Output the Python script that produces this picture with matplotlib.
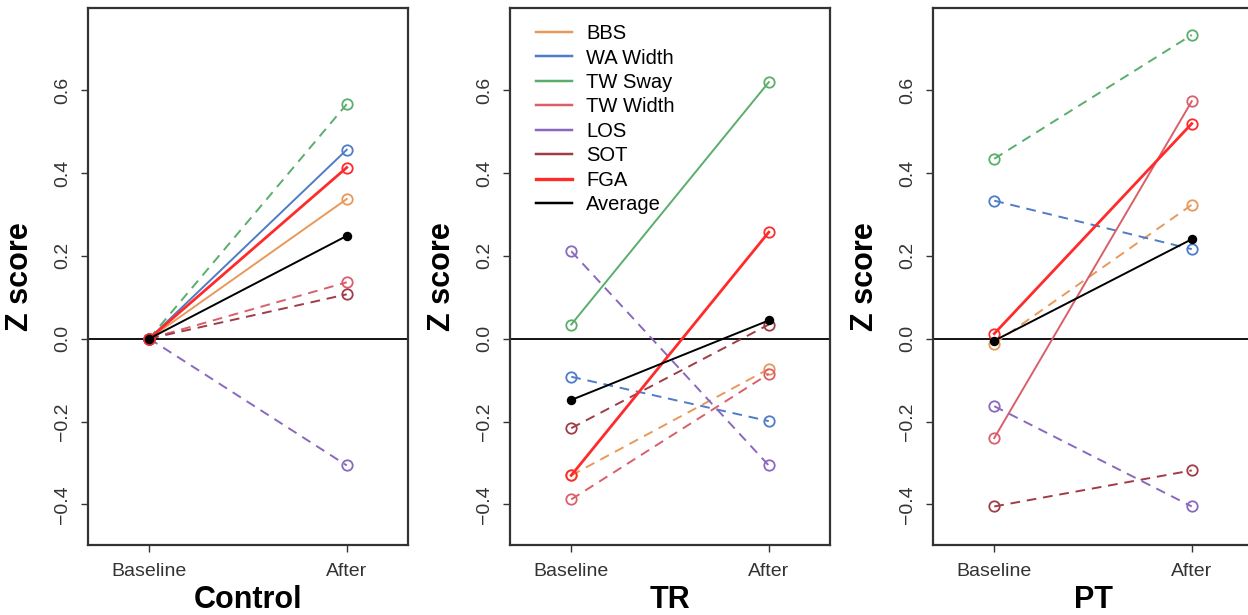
"""Z score change from baseline to after, per group (Control, TR, PT)."""

import matplotlib

matplotlib.use("Agg")
import matplotlib.pyplot as plt
from matplotlib.lines import Line2D

plt.rcParams["font.family"] = ["Liberation Sans", "DejaVu Sans"]

# ── Data ─────────────────────────────────────────────────────────────────────

TIMEPOINTS = ["Baseline", "After"]
MEASURES = ["BBS", "WA Width", "TW Sway", "TW Width", "LOS", "SOT", "FGA", "Average"]
GROUPS = ["Control", "TR", "PT"]

CONTROL_BASELINE = [0.0, 0.0, 0.0, 0.0, 0.0, 0.0, 0.0, 0.0]
CONTROL_AFTER = [0.337, 0.456, 0.566, 0.136, -0.306, 0.107, 0.413, 0.248]

TR_BASELINE = [-0.33, -0.092, 0.034, -0.388, 0.211, -0.216, -0.33, -0.148]
TR_AFTER = [-0.073, -0.199, 0.619, -0.085, -0.306, 0.034, 0.257, 0.044]

PT_BASELINE = [-0.012, 0.333, 0.434, -0.24, -0.163, -0.405, 0.012, -0.005]
PT_AFTER = [0.323, 0.216, 0.733, 0.573, -0.405, -0.318, 0.519, 0.24]

# ── Styles ───────────────────────────────────────────────────────────────────

COLORS = {
    "BBS": "#E8995A",
    "WA Width": "#4F7CC6",
    "TW Sway": "#5AAE6C",
    "TW Width": "#D95F6A",
    "LOS": "#8A68C0",
    "SOT": "#A03C46",
    "FGA": "#FF2B2B",
    "Average": "#000000",
}
WIDTHS = {"FGA": 2.0}
DASHED = {
    "Control": {"TW Sway", "TW Width", "LOS", "SOT"},
    "TR": {"BBS", "WA Width", "TW Width", "LOS", "SOT"},
    "PT": {"BBS", "WA Width", "TW Sway", "LOS", "SOT"},
}

W, H = 1248, 615
AX_LEFT = [88, 510, 933]
AX_W, AX_TOP, AX_BOT = 320, 8, 545

fig = plt.figure(figsize=(W / 100, H / 100), dpi=100)

panels = [
    (CONTROL_BASELINE, CONTROL_AFTER),
    (TR_BASELINE, TR_AFTER),
    (PT_BASELINE, PT_AFTER),
]

for gi, (group, (base, after)) in enumerate(zip(GROUPS, panels)):
    ax = fig.add_axes(
        [AX_LEFT[gi] / W, (H - AX_BOT) / H, AX_W / W, (AX_BOT - AX_TOP) / H]
    )
    ax.axhline(0, color="black", lw=1.3, zorder=1)
    for mi, m in enumerate(MEASURES):
        dashed = m in DASHED[group]
        avg = m == "Average"
        ax.plot(
            [1, 2],
            [base[mi], after[mi]],
            color=COLORS[m],
            lw=WIDTHS.get(m, 1.4),
            ls=(0, (5, 3.5)) if dashed else "-",
            marker="o",
            ms=5.5 if avg else 7.5,
            mfc="black" if avg else "none",
            mec=COLORS[m],
            mew=1.3,
            zorder=3 if avg else 2,
        )

    ax.set_xlim(0.69, 2.31)
    ax.set_ylim(-0.498, 0.798)
    ax.set_xticks([1, 2])
    ax.set_xticklabels(TIMEPOINTS, fontsize=14, color="#333333")
    ax.set_yticks([-0.4, -0.2, 0.0, 0.2, 0.4, 0.6])
    ax.set_yticklabels(
        ["\u22120.4", "\u22120.2", "0.0", "0.2", "0.4", "0.6"],
        fontsize=14,
        rotation=90,
        va="center",
        color="#333333",
    )
    ax.tick_params(axis="both", direction="out", length=5, width=1, color="#333333")
    ax.tick_params(axis="x", pad=8)
    ax.tick_params(axis="y", pad=7)
    for sp in ax.spines.values():
        sp.set_linewidth(1.6)
        sp.set_color("#333333")

    ax.set_ylabel("Z score", fontsize=22, fontweight="bold")
    ax.yaxis.set_label_coords(-0.165, 0.5)
    ax.set_xlabel(group, fontsize=22, fontweight="bold", va="center")
    ax.xaxis.set_label_coords(0.5, -0.102)

    if group == "TR":
        handles = [
            Line2D([], [], color=COLORS[m], lw=WIDTHS.get(m, 1.4) + 0.4)
            for m in MEASURES
        ]
        ax.legend(
            handles,
            MEASURES,
            loc="upper left",
            bbox_to_anchor=(0.055, 0.985),
            frameon=False,
            fontsize=14.5,
            handlelength=1.8,
            handletextpad=0.7,
            labelspacing=0.27,
            borderaxespad=0,
        )

fig.savefig("out.png", dpi=100)
